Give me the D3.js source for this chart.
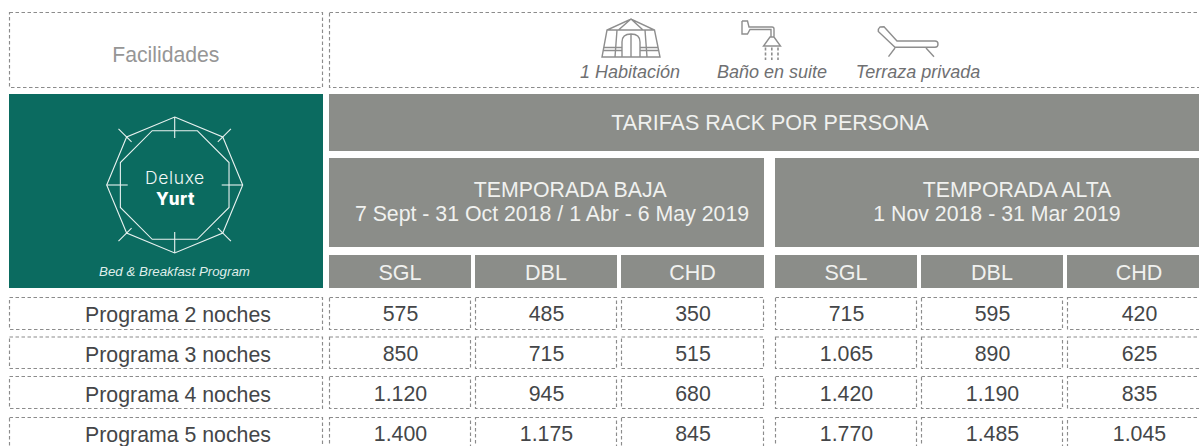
<!DOCTYPE html>
<html><head><meta charset="utf-8">
<style>html,body{margin:0;padding:0;background:#fff;overflow:hidden}svg{display:block}text{font-family:"Liberation Sans",Arial,sans-serif}</style>
<script src="https://cdn.jsdelivr.net/npm/d3@7/dist/d3.min.js"></script>
</head><body><svg id="c" width="1199" height="446"></svg>
<script>
const facilities=["1 Habitación","Baño en suite","Terraza privada"];
const rackTitle="TARIFAS RACK POR PERSONA";
const seasonNames=["TEMPORADA BAJA","TEMPORADA ALTA"];
const seasonDates=["7 Sept - 31 Oct 2018 / 1 Abr - 6 May 2019","1 Nov 2018 - 31 Mar 2019"];
const occupancy=["SGL","DBL","CHD"];
const programs=["Programa 2 noches","Programa 3 noches","Programa 4 noches","Programa 5 noches"];
const sgl1=[575,850,1120,1400];
const dbl1=[485,715,945,1175];
const chd1=[350,515,680,845];
const sgl2=[715,1065,1420,1770];
const dbl2=[595,890,1190,1485];
const chd2=[420,625,835,1045];
const series=[sgl1,dbl1,chd1,sgl2,dbl2,chd2];

const GRAY="#8b8d89",GREEN="#0b6b60",DASH="#8c8c8c",TXT="#444648",LIGHT="#f0f1ef";
const svg=d3.select("#c");
const fmt=d3.formatLocale({decimal:",",thousands:".",grouping:[3],currency:["",""]}).format(",d");

const colEdges=[[329,471],[475,617],[621,764],[775,917],[921,1063],[1067,1211]];
const rowEdges=[[297,330],[336.5,369],[376,409],[417,452]];
const baseY=[321.7,361.8,401.8,441.8];
const cx=i=>(colEdges[i][0]+colEdges[i][1])/2;

function dashed(x0,y0,x1,y1){
  svg.append("rect").attr("x",x0+.5).attr("y",y0+.5).attr("width",x1-x0-1).attr("height",y1-y0-1)
   .attr("fill","none").attr("stroke",DASH).attr("stroke-width",1.15).attr("stroke-dasharray","3.5 2.5");
}
function label(x,y,t,size,fill,opts={}){
  return svg.append("text").attr("x",x).attr("y",y).attr("text-anchor","middle").attr("font-size",size).attr("fill",fill)
    .attr("font-style",opts.italic?"italic":null).attr("font-weight",opts.weight||null)
    .attr("letter-spacing",opts.ls||null).style("font-family",opts.family||null).text(t);
}
function block(x0,y0,x1,y1,f){svg.append("rect").attr("x",x0).attr("y",y0).attr("width",x1-x0).attr("height",y1-y0).attr("fill",f);}

dashed(9,12,323,88);
dashed(329,12,1205,88);
label(165.8,62,"Facilidades",21.2,"#969696");
const facX=[630,772,918];
facilities.forEach((t,i)=>label(facX[i],78,t,18,"#6f7072",{italic:true}));

const iconPaths=[
 "M602 57H660L654.5 30L631 19L607 30ZM607 30H654.5M618.5 30L631 19L643 30M617 30L615 57M645 30L647 57M622 57V42Q622 34 631 34Q640 34 640 42V57M631 34V57M604 47.5H622M640 47.5H658M603 50.5H622M640 50.5H659",
 "M742 21H747.5L749 27H772Q774 27 774 29V37M742 21V34H747.5L750 29.5H771V37M770 37H774L780.5 46H763.5Z",
 "M880 27L884 26.7L897 41H935Q938 41 938 44Q938 47.3 935 47.3H895L878.3 31.5Q878 28.5 880 27ZM895 48L888.5 56.7M926 48L934 56.7"];
svg.append("g").attr("fill","none").attr("stroke","#8e8e8e").attr("stroke-width",1.4)
  .selectAll("path").data(iconPaths).join("path").attr("d",d=>d);
svg.append("g").attr("stroke","#8e8e8e").attr("stroke-width",1.6).attr("stroke-dasharray","3 2")
  .selectAll("line").data([765.5,771.8,778]).join("line").attr("x1",d=>d).attr("x2",d=>d).attr("y1",47.5).attr("y2",60);

block(9,94,323,288,GREEN);
const lc=[174.7,185];
const octa=(r,off)=>d3.range(8).map(k=>{const a=off+k*Math.PI/4;return [lc[0]+r*Math.cos(a),lc[1]+r*Math.sin(a)];});
const logo=svg.append("g").attr("fill","none").attr("stroke","#e9f2f0").attr("stroke-width",1.1);
logo.append("path").attr("d",d3.line()(octa(68,-Math.PI/2))+"Z");
logo.append("path").attr("d",d3.line()(octa(58.8,-Math.PI/2+Math.PI/8))+"Z");
octa(68,-Math.PI/2).forEach((p,k)=>{
  const a=-Math.PI/2+k*Math.PI/4,dx=Math.cos(a),dy=Math.sin(a);
  const out=k%2?11.5:0,inn=k%2?7:21;
  logo.append("line").attr("x1",p[0]+out*dx).attr("y1",p[1]+out*dy).attr("x2",p[0]-inn*dx).attr("y2",p[1]-inn*dy);
});
label(175,184,"Deluxe",17.5,"#f2f7f6",{family:"Inter",weight:300,ls:.6});
label(175.5,204.5,"Yurt",17,"#ffffff",{family:"Inter",weight:800,ls:.5});
label(174.5,276,"Bed & Breakfast Program",13.3,"#dfeeea",{italic:true});

block(329,94,1199,151,GRAY);
label(770,130,rackTitle,21.5,LIGHT);
const nameX=[570.3,1017],dateX=[552,997];
[[329,764],[775,1211]].forEach(([a,b],i)=>{
  block(a,158,b,247,GRAY);
  label(nameX[i],197,seasonNames[i],21.3,LIGHT);
  label(dateX[i],221,seasonDates[i],21.3,LIGHT);
});
colEdges.forEach((e,i)=>{
  block(e[0],255,e[1],288,GRAY);
  label(cx(i),280,occupancy[i%3],21.5,LIGHT);
});

programs.forEach((p,r)=>{
  const [y0,y1]=rowEdges[r];
  dashed(9,y0,323,y1);
  label(178,baseY[r],p,21.3,TXT);
  series.forEach((vals,i)=>{
    dashed(colEdges[i][0],y0,colEdges[i][1],y1);
    label(cx(i)+.5,baseY[r]-.5,fmt(vals[r]),21.3,TXT);
  });
});
</script></body></html>
